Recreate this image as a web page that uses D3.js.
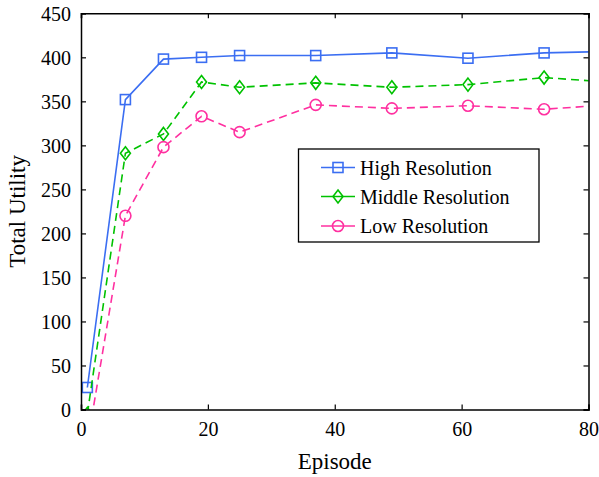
<!DOCTYPE html>
<html><head><meta charset="utf-8">
<script src="https://cdn.jsdelivr.net/npm/d3@7"></script>
<style>body{margin:0;background:#fff}svg{display:block}svg text{font-family:"Liberation Serif","Times New Roman",Times,"DejaVu Serif",serif !important}</style>
</head><body>
<svg id="c" width="599" height="477"></svg>
<script>
const episodes = [1, 7, 13, 19, 25, 37, 49, 61, 73, 85];
const highRes = [25, 352, 398, 400, 402, 402, 405, 399, 405, 407];
const midRes = [-5, 291, 313, 372, 366, 371, 366, 369, 377, 371];
const lowRes = [-39, 220, 298, 333, 315, 346, 342, 345, 341, 347];
const xTicks = [0, 20, 40, 60, 80];
const yTicks = [0, 50, 100, 150, 200, 250, 300, 350, 400, 450];
const seriesNames = ["High Resolution", "Middle Resolution", "Low Resolution"];

const series = [
  {name: seriesNames[0], values: highRes, color: "#3b6ef2", dash: null, marker: "square"},
  {name: seriesNames[1], values: midRes, color: "#00c200", dash: "8,5", marker: "diamond"},
  {name: seriesNames[2], values: lowRes, color: "#ff30a0", dash: "8,5", marker: "circle"}
];

const L = 81, R = 588.5, T = 13.3, B = 409.5;
const svg = d3.select("#c");
const x = d3.scaleLinear().domain([0, 80]).range([L, R]);
const y = d3.scaleLinear().domain([0, 450]).range([B, T]);

svg.append("defs").append("clipPath").attr("id", "clip")
  .append("rect").attr("x", L).attr("y", T).attr("width", R - L).attr("height", B - T);

const g = svg.append("g").attr("clip-path", "url(#clip)");

function drawMarker(sel, type, color, cx, cy) {
  if (type === "square") {
    sel.append("rect").attr("x", cx - 5).attr("y", cy - 5).attr("width", 10).attr("height", 10)
      .attr("fill", "none").attr("stroke", color).attr("stroke-width", 1.6);
  } else if (type === "diamond") {
    sel.append("path").attr("d", `M${cx},${cy-6.5}L${cx+5},${cy}L${cx},${cy+6.5}L${cx-5},${cy}Z`)
      .attr("fill", "none").attr("stroke", color).attr("stroke-width", 1.6);
  } else {
    sel.append("circle").attr("cx", cx).attr("cy", cy).attr("r", 5.5)
      .attr("fill", "none").attr("stroke", color).attr("stroke-width", 1.6);
  }
}

const line = d3.line().x((d, i) => x(episodes[i])).y(d => y(d));
series.forEach(s => {
  g.append("path").datum(s.values).attr("d", line).attr("fill", "none")
    .attr("stroke", s.color).attr("stroke-width", 1.6)
    .attr("stroke-dasharray", s.dash);
  s.values.forEach((v, i) => drawMarker(g, s.marker, s.color, x(episodes[i]), y(v)));
});

const axB = svg.append("g").attr("transform", `translate(0,${B})`)
  .call(d3.axisBottom(x).tickValues(xTicks).tickSize(-5).tickPadding(12));
const axT = svg.append("g").attr("transform", `translate(0,${T})`)
  .call(d3.axisTop(x).tickValues(xTicks).tickSize(-5).tickFormat(""));
const axL = svg.append("g").attr("transform", `translate(${L},0)`)
  .call(d3.axisLeft(y).tickValues(yTicks).tickSize(-5).tickPadding(10));
const axR = svg.append("g").attr("transform", `translate(${R},0)`)
  .call(d3.axisRight(y).tickValues(yTicks).tickSize(-5).tickFormat(""));
[axB, axT, axL, axR].forEach(a => {
  a.attr("font-family", null);
  a.select(".domain").attr("stroke", "#000").attr("stroke-width", 1.5);
  a.selectAll(".tick line").attr("stroke", "#000").attr("stroke-width", 1.2);
  a.selectAll("text").attr("font-size", 20).attr("fill", "#000");
});
axB.selectAll("text").attr("dy", "0.71em");
axL.selectAll("text").attr("dy", "0.36em");

svg.append("text").attr("x", (L + R) / 2).attr("y", 469).attr("text-anchor", "middle")
  .attr("font-size", 23).text("Episode");
svg.append("text").attr("transform", `translate(25,${(T + B) / 2}) rotate(-90)`)
  .attr("text-anchor", "middle").attr("font-size", 23).text("Total Utility");

const lg = svg.append("g");
lg.append("rect").attr("x", 298.5).attr("y", 149).attr("width", 240.5).attr("height", 93)
  .attr("fill", "#fff").attr("stroke", "#000").attr("stroke-width", 1.3);
const ly = [167.5, 196.5, 226];
series.forEach((s, i) => {
  lg.append("line").attr("x1", 321).attr("x2", 355).attr("y1", ly[i]).attr("y2", ly[i])
    .attr("stroke", s.color).attr("stroke-width", 1.6);
  drawMarker(lg, s.marker, s.color, 338, ly[i]);
  lg.append("text").attr("x", 360).attr("y", ly[i]).attr("dy", "0.35em")
    .attr("font-size", 20).text(s.name);
});
</script>
</body></html>
